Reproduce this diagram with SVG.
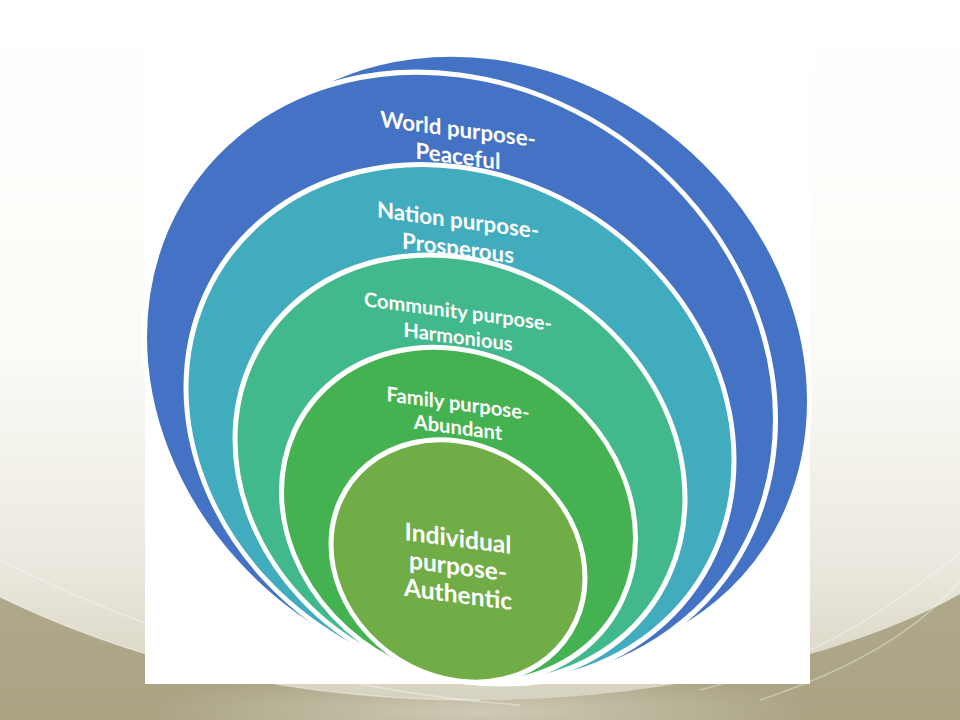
<svg xmlns="http://www.w3.org/2000/svg" width="960" height="720" viewBox="0 0 960 720">
  <defs>
    <linearGradient id="bgLight" x1="0" y1="0" x2="0" y2="1">
      <stop offset="0" stop-color="#ffffff"/>
      <stop offset="0.5" stop-color="#fbfbf7"/>
      <stop offset="0.8" stop-color="#ebe9df"/>
      <stop offset="1" stop-color="#d6d2c0"/>
    </linearGradient>
    <linearGradient id="bgDark" x1="0" y1="0" x2="0" y2="1">
      <stop offset="0" stop-color="#c4bea5"/>
      <stop offset="1" stop-color="#aaa384"/>
    </linearGradient>
    <radialGradient id="glow" cx="0.5" cy="0.5" r="0.5">
      <stop offset="0" stop-color="#d4cfbb" stop-opacity="0.9"/>
      <stop offset="1" stop-color="#d4cfbb" stop-opacity="0"/>
    </radialGradient>
    <style>
      .ring { stroke: #ffffff; stroke-width: 5; }
      .blue { fill: #4472C4; }
      .teal { fill: #41ACBE; }
      .comm { fill: #41B98C; }
      .fam { fill: #45B251; }
      .ind { fill: #70AD47; }
      .label { font-family: Lato, "Open Sans", "DejaVu Sans", sans-serif; font-weight: 700; fill: #ffffff; text-anchor: middle; }
      .wave { fill: none; stroke: #ffffff; stroke-opacity: 0.35; stroke-width: 1.5; }
    </style>
  </defs>

  <!-- slide background -->
  <rect x="0" y="0" width="960" height="720" fill="url(#bgDark)"/>
  <ellipse cx="480" cy="712" rx="330" ry="40" fill="url(#glow)"/>
  <path d="M0,0 H960 V594 C880,640 700,700 480,700 C250,700 100,645 0,597 Z" fill="url(#bgLight)"/>
  <path class="wave" d="M0,560 C120,620 300,690 520,705"/>
  <path class="wave" d="M0,597 C100,645 250,700 480,700"/>
  <path class="wave" d="M700,690 C820,660 900,600 960,553"/>
  <path class="wave" d="M760,700 C850,670 920,630 960,580"/>

  <!-- picture frame -->
  <rect x="145" y="48" width="665" height="636" fill="#ffffff"/>

  <g id="connectors"/>

  <g id="node-world">
    <ellipse class="ring blue" cx="0" cy="0" rx="315.5" ry="303" transform="translate(494,360) skewY(7.5)"/>
    <ellipse class="ring blue" cx="0" cy="0" rx="315.5" ry="303" transform="translate(460,378) skewY(7.5)"/>
    <g transform="translate(458,137) skewY(7.5)">
      <text class="label" font-size="22.3" x="0" y="0">World purpose-</text>
      <text class="label" font-size="22.3" x="0" y="27">Peaceful</text>
    </g>
  </g>

  <g id="node-nation">
    <ellipse class="ring teal" cx="0" cy="0" rx="274" ry="257" transform="translate(460,424) skewY(7.5)"/>
    <g transform="translate(458,228) skewY(7.5)">
      <text class="label" font-size="22.3" x="0" y="0">Nation purpose-</text>
      <text class="label" font-size="22.3" x="0" y="28">Prosperous</text>
    </g>
  </g>

  <g id="node-community">
    <ellipse class="ring comm" cx="0" cy="0" rx="225" ry="212" transform="translate(460,469) skewY(7.5)"/>
    <g transform="translate(458,318.5) skewY(7.5)">
      <text class="label" font-size="20" x="0" y="0">Community purpose-</text>
      <text class="label" font-size="20" x="0" y="25.5">Harmonious</text>
    </g>
  </g>

  <g id="node-family">
    <ellipse class="ring fam" cx="0" cy="0" rx="177" ry="166" transform="translate(458.5,515) skewY(7.5)"/>
    <g transform="translate(458,410.5) skewY(7.5)">
      <text class="label" font-size="20.2" x="0" y="0">Family purpose-</text>
      <text class="label" font-size="20.2" x="0" y="24">Abundant</text>
    </g>
  </g>

  <g id="node-individual">
    <ellipse class="ring ind" cx="0" cy="0" rx="127" ry="120" transform="translate(458,561) skewY(7.5)"/>
    <g transform="translate(458,547) skewY(7.5)">
      <text class="label" font-size="24.6" x="0" y="0">Individual</text>
      <text class="label" font-size="24.6" x="0" y="28">purpose-</text>
      <text class="label" font-size="24.6" x="0" y="56">Authentic</text>
    </g>
  </g>
</svg>
